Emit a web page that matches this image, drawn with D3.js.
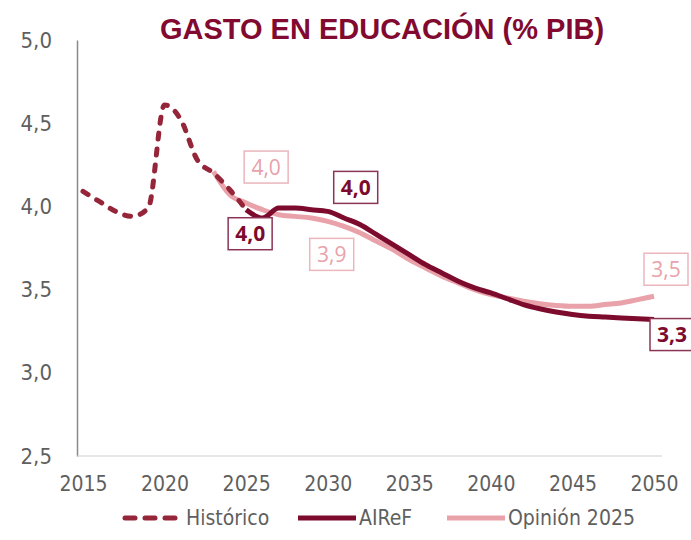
<!DOCTYPE html>
<html>
<head>
<meta charset="utf-8">
<script src="https://cdn.jsdelivr.net/npm/d3@7"></script>
<style>
  body { margin: 0; background: #fff; }
  .tick text, .legend text { font-family: "DejaVu Sans Condensed", "DejaVu Sans", sans-serif; font-stretch: condensed; fill: #5f5f5f; }
</style>
</head>
<body>
<svg id="chart" width="691" height="540"></svg>
<script>
// data
const historicYears = [2015, 2016, 2017, 2018, 2019, 2020, 2021, 2022, 2023, 2024, 2025];
const historicValues = [4.09, 4.03, 3.97, 3.94, 3.99, 4.61, 4.52, 4.28, 4.20, 4.10, 3.98];

const airefYears = d3.range(2025, 2051);
const airefValues = [3.98, 3.93, 3.99, 3.99, 3.98, 3.97, 3.93, 3.89, 3.83, 3.77, 3.71, 3.65, 3.60, 3.55,
  3.51, 3.48, 3.445, 3.41, 3.385, 3.365, 3.35, 3.34, 3.335, 3.33, 3.325, 3.32];

const opinionYears = d3.range(2023, 2051);
const opinionValues = [4.21, 4.07, 4.02, 3.98, 3.95, 3.94, 3.93, 3.91, 3.88, 3.84, 3.79, 3.74, 3.68, 3.63,
  3.58, 3.54, 3.50, 3.47, 3.45, 3.43, 3.415, 3.405, 3.40, 3.40, 3.41, 3.42, 3.44, 3.46];

const xTicks = [2015, 2020, 2025, 2030, 2035, 2040, 2045, 2050];
const yTicks = [2.5, 3.0, 3.5, 4.0, 4.5, 5.0];

const seriesNames = ["Histórico", "AIReF", "Opinión 2025"];

// labelled points: [series, year, text]
const labelPoints = [
  ["opinion", 2025, "4,0"],
  ["airef", 2025, "4,0"],
  ["airef", 2030, "4,0"],
  ["opinion", 2030, "3,9"],
  ["opinion", 2050, "3,5"],
  ["airef", 2050, "3,3"]
];

const colors = {historic: "#952539", airef: "#7c0b2e", opinion: "#e9a1aa"};
const labelBorder = {airef: "#8c3455", opinion: "#ebb6bd"};
// offsets of each label box from its point
const labelOffsets = [[20, -36], [4, 24], [28, -24], [4, 33], [12, -27], [18, 15]];

const svg = d3.select("#chart");
const x = d3.scaleLinear().domain([2015, 2050]).range([83, 654]);
const y = d3.scaleLinear().domain([2.5, 5]).range([456, 40]);
const fmt = d3.formatLocale({decimal: ",", thousands: ".", grouping: [3], currency: ["", "€"]}).format(".1f");

// title
svg.append("text")
  .attr("x", 382).attr("y", 39)
  .attr("text-anchor", "middle")
  .attr("font-family", "'Liberation Sans', Arial, sans-serif")
  .attr("font-weight", "bold")
  .attr("font-size", 29)
  .attr("fill", "#820a30")
  .text("GASTO EN EDUCACIÓN (% PIB)");

// axes
const yAxis = svg.append("g")
  .attr("transform", "translate(77,0)")
  .call(d3.axisLeft(y).tickValues(yTicks).tickFormat(fmt).tickSize(0).tickPadding(25));
yAxis.select(".domain").attr("stroke", "#8a8a8a").attr("stroke-width", 1.5);
yAxis.selectAll("text").attr("font-size", 22);

const xAxis = svg.append("g")
  .attr("transform", "translate(0,456)")
  .call(d3.axisBottom(x).tickValues(xTicks).tickFormat(d3.format("d")).tickSize(0).tickPadding(20));
xAxis.select(".domain").remove();
xAxis.selectAll("text").attr("font-size", 21);
svg.append("line")
  .attr("x1", 77).attr("x2", x(2050) + 8)
  .attr("y1", y(2.5)).attr("y2", y(2.5))
  .attr("stroke", "#d0d0d0").attr("stroke-width", 1.2);

// lines
const line = d3.line().x(d => x(d[0])).y(d => y(d[1])).curve(d3.curveMonotoneX);

const historic = historicYears.map((yr, i) => [yr, historicValues[i]]);
const airef = airefYears.map((yr, i) => [yr, airefValues[i]]);
const opinion = opinionYears.map((yr, i) => [yr, opinionValues[i]]);

svg.append("path").datum(opinion)
  .attr("d", line).attr("fill", "none")
  .attr("stroke", colors.opinion).attr("stroke-width", 5).attr("stroke-linejoin", "round");

svg.append("path").datum(historic)
  .attr("d", line).attr("fill", "none")
  .attr("stroke", colors.historic).attr("stroke-width", 5)
  .attr("stroke-linecap", "round").attr("stroke-dasharray", "6 10");

svg.append("path").datum(airef)
  .attr("d", line).attr("fill", "none")
  .attr("stroke", colors.airef).attr("stroke-width", 5).attr("stroke-linejoin", "round");

// data labels
const seriesData = {airef: airef, opinion: opinion};
labelPoints.forEach((p, i) => {
  const pt = seriesData[p[0]].find(d => d[0] === p[1]);
  const cx = x(pt[0]) + labelOffsets[i][0];
  const cy = y(pt[1]) + labelOffsets[i][1];
  const g = svg.append("g").attr("transform", "translate(" + cx + "," + cy + ")");
  g.append("rect")
    .attr("x", -22).attr("y", -16).attr("width", 44).attr("height", 32)
    .attr("fill", "#fff")
    .attr("stroke", labelBorder[p[0]]).attr("stroke-width", 1.5);
  g.append("text")
    .attr("text-anchor", "middle").attr("dy", "0.36em")
    .attr("font-family", "'Open Sans', sans-serif")
    .attr("font-size", 21)
    .attr("font-weight", p[0] === "airef" ? "bold" : "normal")
    .attr("fill", p[0] === "airef" ? colors.airef : colors.opinion)
    .text(p[2]);
});

// legend
const legendItems = [
  {name: seriesNames[0], color: colors.historic, dash: "10 10", x0: 125},
  {name: seriesNames[1], color: colors.airef, dash: null, x0: 298},
  {name: seriesNames[2], color: colors.opinion, dash: null, x0: 447}
];
const legend = svg.append("g").attr("class", "legend");
legendItems.forEach(it => {
  legend.append("line")
    .attr("x1", it.x0).attr("x2", it.dash ? it.x0 + 52 : it.x0 + 58)
    .attr("y1", 518).attr("y2", 518)
    .attr("stroke", it.color).attr("stroke-width", 5)
    .attr("stroke-linecap", it.dash ? "round" : "butt")
    .attr("stroke-dasharray", it.dash);
  legend.append("text")
    .attr("x", it.x0 + 61).attr("y", 525)
    .attr("font-size", 21)
    .text(it.name);
});
</script>
</body>
</html>
